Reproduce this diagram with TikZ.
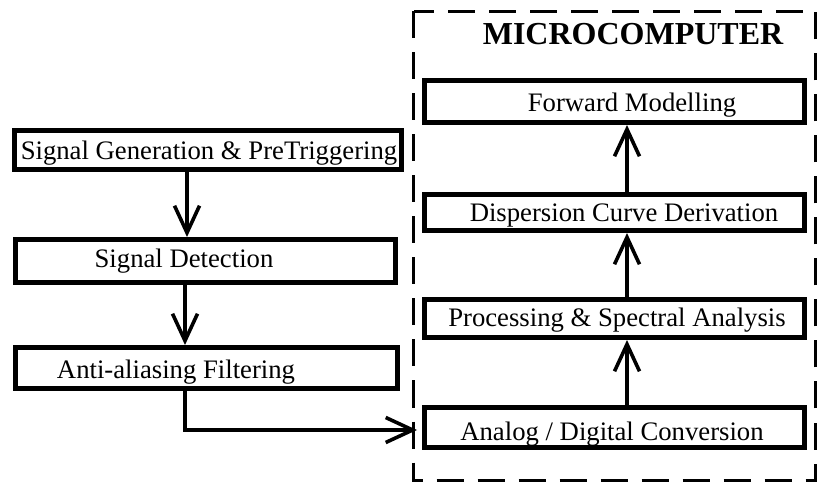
\documentclass[tikz,border=0pt]{standalone}
\usepackage{fontspec}
\setmainfont{Liberation Serif}
\usetikzlibrary{arrows.meta}
\begin{document}
\begin{tikzpicture}[x=1pt,y=-1pt,
  box/.style={draw=black, line width=5pt, fill=white, inner sep=0pt, rectangle},
  lbl/.style={anchor=base, inner sep=0pt, font=\fontsize{26.7}{30}\selectfont},
  conn/.style={draw=black, line width=3.2pt, -{Straight Barb[length=27pt,width=25pt,line width=3.6pt]}},
  frame/.style={draw=black, line width=3pt, dash pattern=on 27pt off 14pt}]
\useasboundingbox (0,0) rectangle (825,494);
% microcomputer frame
\draw[frame] (413.5,11.5) rectangle (815.5,480.5);
\node[anchor=base, inner sep=0pt, font=\fontsize{32}{36}\selectfont\bfseries] (mc) at (633,45) {MICROCOMPUTER};
% left boxes
\node[box, minimum width=387pt, minimum height=39pt] (gen) at (208,150) {};
\node[lbl] (genT) at (209,160) {Signal Generation \& PreTriggering};
\node[box, minimum width=380pt, minimum height=43pt] (det) at (205.5,261) {};
\node[lbl] (detT) at (184,268) {Signal Detection};
\node[box, minimum width=382pt, minimum height=41pt] (anti) at (206.5,368) {};
\node[lbl] (antiT) at (176,378) {Anti-aliasing Filtering};
% right boxes
\node[box, minimum width=380pt, minimum height=42pt] (fwd) at (614.5,101.5) {};
\node[lbl] (fwdT) at (632,112) {Forward Modelling};
\node[box, minimum width=380pt, minimum height=36pt] (disp) at (614.5,212.5) {};
\node[lbl] (dispT) at (624,222) {Dispersion Curve Derivation};
\node[box, minimum width=380pt, minimum height=38pt] (proc) at (614.5,318.5) {};
\node[lbl] (procT) at (617,327) {Processing \& Spectral Analysis};
\node[box, minimum width=380pt, minimum height=40pt] (adc) at (614.5,427.5) {};
\node[lbl] (adcT) at (612,440) {Analog / Digital Conversion};
% connectors
\draw[conn] ([xshift=-21pt]gen.south) -- ([xshift=-18.5pt]det.north);
\draw[conn] ([xshift=-20.5pt]det.south) -- ([xshift=-21.5pt]anti.north);
\draw[conn] ([xshift=-21.5pt]anti.south) |- ([xshift=-5pt,yshift=-2.5pt]adc.west);
\draw[conn] ([xshift=12.5pt]adc.north) -- ([xshift=12.5pt]proc.south);
\draw[conn] ([xshift=12.5pt]proc.north) -- ([xshift=12.5pt]disp.south);
\draw[conn] ([xshift=12.5pt]disp.north) -- ([xshift=12.5pt]fwd.south);
\end{tikzpicture}
\end{document}
